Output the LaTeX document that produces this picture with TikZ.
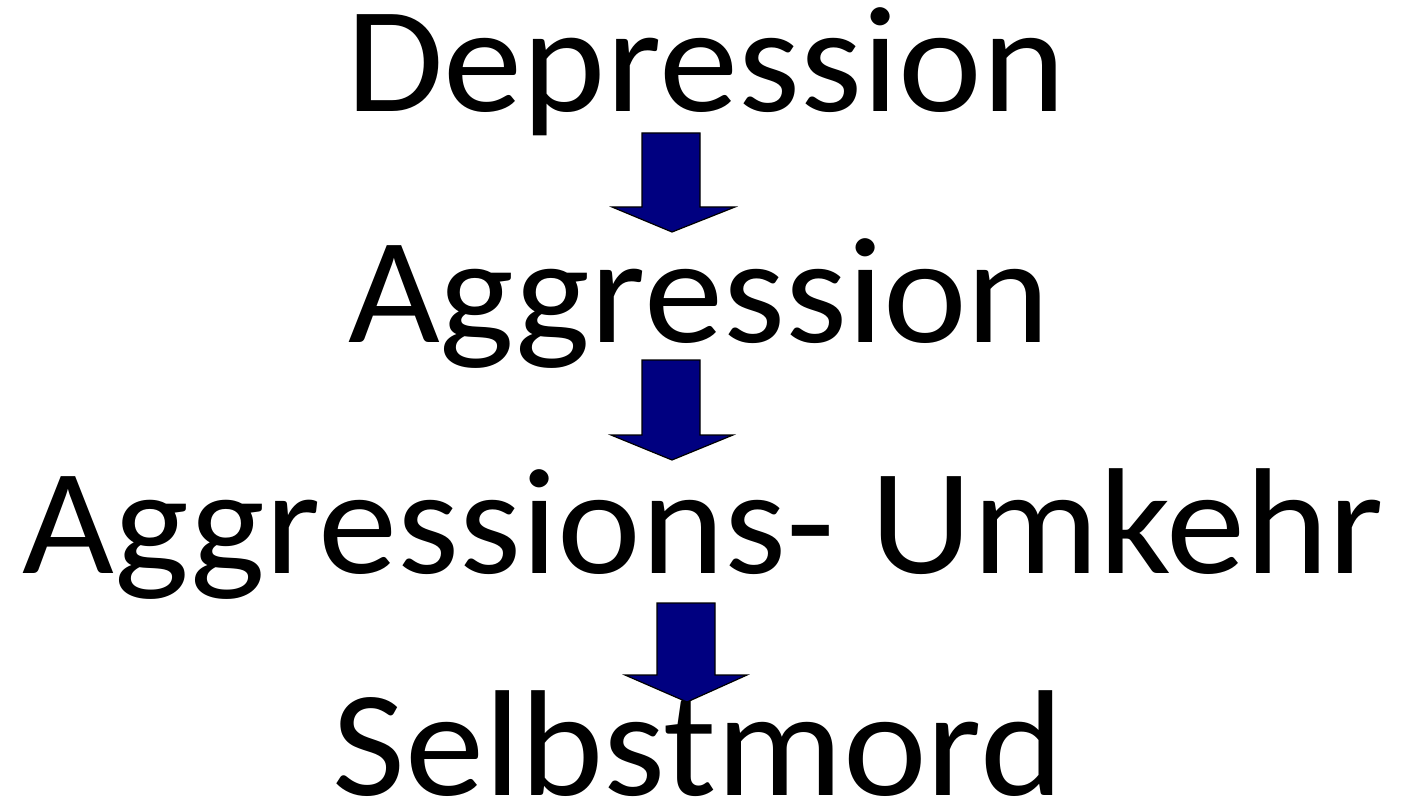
\documentclass[tikz,border=0pt]{standalone}
\usepackage{fontspec}
\setmainfont{Carlito}
\begin{document}
\begin{tikzpicture}[x=1pt,y=-1pt,
  lbl/.style={anchor=base,inner sep=0pt,xscale=1.05,font=\fontsize{151}{160}\selectfont},
  blockarrow/.style={fill={rgb,255:red,0;green,0;blue,128},draw=black,line width=1.2pt,line join=miter}]
\useasboundingbox (0,0) rectangle (1402,810);
\node[lbl] (dep) at (706,112) {Depression};
\node[lbl] (agg) at (699,342) {Aggression};
\node[lbl] (umk) at (703,573) {Aggressions- Umkehr};
\node[lbl] (sel) at (698,795) {Selbstmord};
\draw[blockarrow] (642,133) -- (700,133) -- (700,207) -- (735,207) -- (672,232) -- (612,207) -- (642,207) -- cycle;
\draw[blockarrow] (642,360) -- (700,360) -- (700,435) -- (733,435) -- (672,460) -- (611,435) -- (642,435) -- cycle;
\draw[blockarrow] (657,603) -- (715,603) -- (715,675) -- (747,675) -- (687,702) -- (625,675) -- (657,675) -- cycle;
\end{tikzpicture}
\end{document}
